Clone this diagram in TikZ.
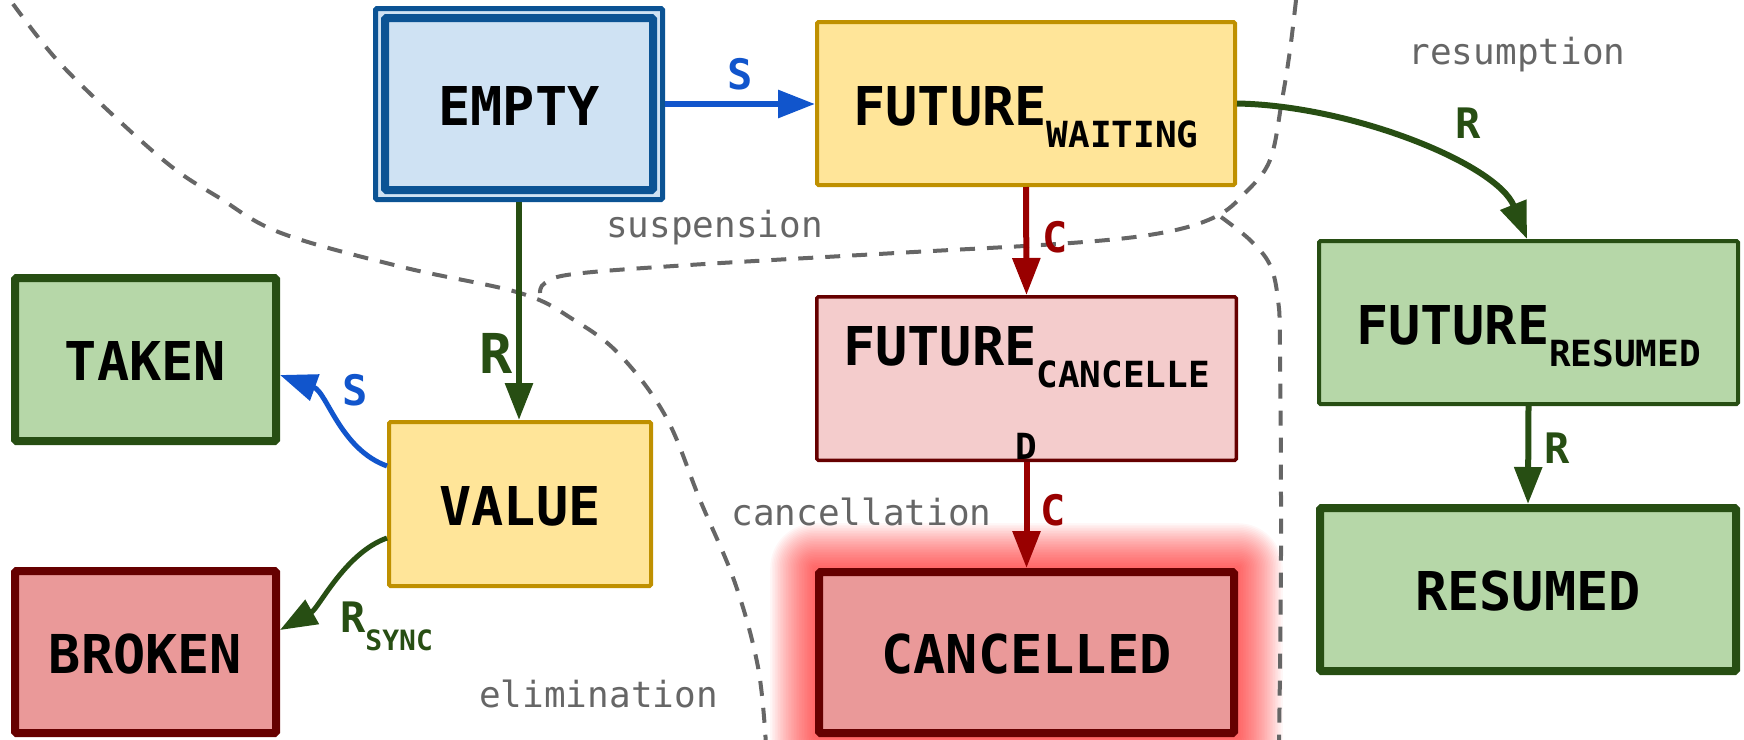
\documentclass[tikz,border=0pt]{standalone}
\usepackage{fontspec}
\usetikzlibrary{arrows.meta,backgrounds}
\newfontfamily\dvm{DejaVu Sans Mono}
\newcommand\fmain{\dvm\bfseries\fontsize{53.5}{60}\selectfont}
\newcommand\fsub{\dvm\bfseries\fontsize{36}{40}\selectfont}
\newcommand\fann{\dvm\fontsize{36}{40}\selectfont}
\newcommand\flbl{\dvm\bfseries\fontsize{42}{48}\selectfont}
\newcommand\fbig{\dvm\bfseries\fontsize{55}{60}\selectfont}
\newcommand\fsync{\dvm\bfseries\fontsize{28}{32}\selectfont}
\definecolor{blueA}{HTML}{1155CC}
\definecolor{greenA}{HTML}{274E13}
\definecolor{redA}{HTML}{990000}
\definecolor{darkred}{HTML}{660000}
\definecolor{yfill}{HTML}{FFE599}
\definecolor{ydraw}{HTML}{BF9000}
\definecolor{gfill}{HTML}{B6D7A8}
\definecolor{pfill}{HTML}{F4CCCC}
\definecolor{rfill}{HTML}{EA9999}
\definecolor{bfill}{HTML}{CFE2F3}
\definecolor{bdraw}{HTML}{0B5394}
\definecolor{dgray}{HTML}{666666}
\tikzset{
  box/.style={draw, rectangle, inner sep=0pt, rounded corners=1.5pt, font=\fmain,
              text height=42pt, text depth=0pt},
  subbox/.style={text height=66pt, text depth=22pt},
  yellowbox/.style={fill=yfill, draw=ydraw, line width=4pt},
  greenbox/.style={fill=gfill, draw=greenA, line width=8pt},
  greenthin/.style={fill=gfill, draw=greenA, line width=4pt},
  pinkbox/.style={fill=pfill, draw=darkred, line width=3.5pt},
  redbox/.style={fill=rfill, draw=darkred, line width=8pt},
  bluebox/.style={fill=bfill, draw=bdraw, line width=5pt},
  arr/.style={line width=6pt, -{Triangle[length=37pt,width=27pt]}},
  boundary/.style={draw=dgray, line width=4pt, dash pattern=on 15pt off 12pt},
  ann/.style={font=\fann, text=dgray, anchor=base, inner sep=0pt},
  lbl/.style={font=\flbl, anchor=base, inner sep=0pt},
}
\begin{document}
\begin{tikzpicture}[x=1pt,y=1pt]
\useasboundingbox (0,0) rectangle (1744,-739);

% boundaries
\draw[boundary] plot[smooth, tension=0.6] coordinates {(13,-4) (57,-60) (115,-117) (172,-167) (218,-197) (281,-233) (402,-267) (520,-293) (574,-320) (620,-355) (666,-417) (700,-500) (735,-583) (758,-667) (766,-745)};
\draw[boundary] plot[smooth, tension=0.6] coordinates {(1296,0) (1290,-50) (1282,-100) (1270,-160) (1245,-193) (1215,-217) (1161,-233) (1071,-243) (896,-253) (689,-265) (574,-274) (545,-283) (540,-293)};
\draw[boundary] plot[smooth, tension=0.6] coordinates {(1221,-217) (1250,-240) (1270,-265) (1278,-300) (1280,-350) (1281,-550) (1279,-745)};

% nodes
\node[box, bluebox, minimum width=287pt, minimum height=191pt] (empty) at (519,-104) {EMPTY};
\draw[bdraw, line width=8pt, rounded corners=1.5pt] ([shift={(12,-12)}]empty.north west) rectangle ([shift={(-12,12)}]empty.south east);
\node[box, yellowbox, subbox, minimum width=418pt, minimum height=163pt] (waiting) at (1026,-103.5) {FUTURE\raisebox{-22pt}{\fsub WAITING}};
\node[box, pinkbox, text height=38pt, text depth=65pt, minimum width=419.5pt, minimum height=163.5pt,
      label={[name=dlabel, font=\fsub, anchor=base, inner sep=0pt, yshift=3pt]south:D}] (fcancel) at (1026.5,-378.5) {FUTURE\raisebox{-22pt}{\fsub CANCELLE}};
\node[box, redbox, minimum width=415pt, minimum height=161pt] (cancelled) at (1026.5,-652.5) {CANCELLED};
\begin{scope}[on background layer]
  \foreach \i in {1,...,28} {
    \pgfmathsetmacro\d{1.6*\i}
    \fill[red, opacity=0.03, rounded corners=\d pt] ([shift={(-\d,-\d)}]cancelled.south west) rectangle ([shift={(\d,\d)}]cancelled.north east);
  }
\end{scope}
\node[box, greenthin, subbox, minimum width=419pt, minimum height=163pt] (fresumed) at (1528.5,-322.5) {FUTURE\raisebox{-22pt}{\fsub RESUMED}};
\node[box, greenbox, minimum width=416pt, minimum height=163pt] (resumed) at (1528,-589.5) {RESUMED};
\node[box, greenbox, minimum width=261pt, minimum height=163pt] (taken) at (145.5,-359.5) {TAKEN};
\node[box, redbox, minimum width=261pt, minimum height=162pt] (broken) at (145.5,-652) {BROKEN};
\node[box, yellowbox, minimum width=262pt, minimum height=164pt] (value) at (520,-504) {VALUE};

% connectors
\draw[arr, blueA] (empty.east) -- (empty.east -| waiting.west);
\draw[arr, greenA] (empty.south) -- (empty.south |- value.north);
\draw[arr, redA] (waiting.south) -- (fcancel.north);
\draw[arr, redA] (fcancel.south) -- (cancelled.north);
\draw[arr, greenA] (fresumed.south) -- (resumed.north);
\draw[arr, greenA] (waiting.east) .. controls +(115,-2) and +(-30,75) .. ([xshift=-1.5pt]fresumed.north);
\draw[arr, blueA, line width=5pt] ([yshift=38pt]value.west) .. controls +(-47,17) and +(47,-17) .. ([yshift=-15.5pt]taken.east);
\draw[arr, greenA, line width=5pt] ([yshift=-34pt]value.west) .. controls +(-42,-15) and +(39,22) .. ([yshift=22pt]broken.east);

% labels
\node[lbl, text=blueA] (ls1) at (740,-89) {S};
\node[font=\fbig, anchor=base, inner sep=0pt, text=greenA] (lr1) at (496,-373) {R};
\node[lbl, text=redA] (lc1) at (1055,-252) {C};
\node[lbl, text=greenA] (lr2) at (1468,-138) {R};
\node[lbl, text=greenA] (lr3) at (1557,-463) {R};
\node[lbl, text=redA] (lc2) at (1053,-525) {C};
\node[lbl, text=blueA] (ls2) at (355,-405) {S};
\node[lbl, text=greenA, anchor=base west] (lrs) at (340,-632) {R\raisebox{-18pt}{\fsync SYNC}};

\node[ann] (tsusp) at (714.5,-237) {suspension};
\node[ann] (tres) at (1517,-64.5) {resumption};
\node[ann] (tcanc) at (861.5,-525) {cancellation};
\node[ann] (telim) at (598.5,-707) {elimination};
\end{tikzpicture}
\end{document}
